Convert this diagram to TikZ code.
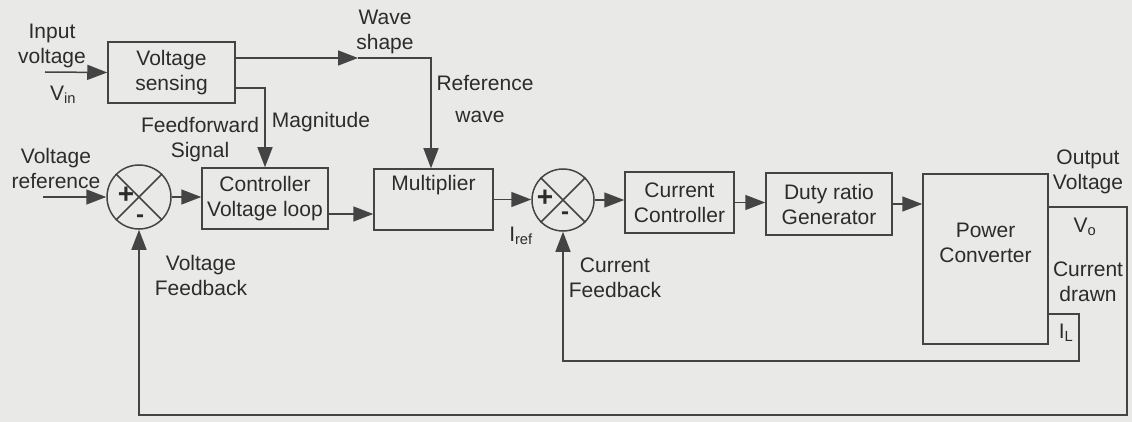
\documentclass[tikz,border=0pt]{standalone}
\usepackage{fontspec}
\setmainfont{Liberation Sans}
\usetikzlibrary{arrows.meta}
\definecolor{bg}{HTML}{E9E9E7}
\definecolor{ln}{HTML}{444444}
\definecolor{tx}{HTML}{2C2C2C}
\begin{document}
\begin{tikzpicture}[x=1pt,y=-1pt,
  font=\fontsize{21}{25}\selectfont,
  every node/.style={text=tx},
  blk/.style={draw=ln, line width=1.5pt, rectangle, inner sep=0pt, align=center},
  sumnode/.style={draw=ln, line width=1.5pt, circle, inner sep=0pt},
  lbl/.style={align=center, inner sep=0pt},
  conn/.style={draw=ln, line width=1.5pt},
  arr/.style={conn, -{Triangle[length=20pt,width=15pt]}}]
\fill[bg] (0,0) rectangle (1132,422);
\useasboundingbox (0,0) rectangle (1132,422);

% blocks
\node[blk, minimum width=127pt, minimum height=61pt] (vs) at (171.5,72.5) {Voltage\\sensing};
\node[blk, minimum width=126pt, minimum height=61pt] (ctrl) at (265,198.5) {Controller\\Voltage loop};
\node[blk, minimum width=119pt, minimum height=61pt] (mult) at (433.5,199.5) {Multiplier\\\strut};
\node[blk, minimum width=109pt, minimum height=61pt] (cc) at (679.5,202.5) {Current\\Controller};
\node[blk, minimum width=126pt, minimum height=62pt] (duty) at (829,204) {Duty ratio\\Generator};
\node[blk, minimum width=125pt, minimum height=170pt] (pc) at (985.5,259) {Power\\Converter\\[8pt]};

% summing junctions
\node[sumnode, minimum size=64pt] (s1) at (139,197) {};
\draw[conn] (s1.north west) -- (s1.south east) (s1.north east) -- (s1.south west);
\node[inner sep=0pt, font=\fontsize{28}{28}\selectfont\bfseries] (p1) at (126,195) {+};
\node[inner sep=0pt, font=\fontsize{24}{24}\selectfont\bfseries] (m1) at (140,219) {-};

\node[sumnode, minimum size=62pt] (s2) at (563,200) {};
\draw[conn] (s2.north west) -- (s2.south east) (s2.north east) -- (s2.south west);
\node[inner sep=0pt, font=\fontsize{28}{28}\selectfont\bfseries] (p2) at (545,198) {+};
\node[inner sep=0pt, font=\fontsize{24}{24}\selectfont\bfseries] (m2) at (565,216) {-};

% coordinates
\coordinate (vin) at (45,72);
\coordinate (vref) at (43,197);
\coordinate (wmid) at (358,58);
\coordinate (wt) at (431,58);
\coordinate (mg) at (265,88);
\coordinate (c1) at (328,214);
\coordinate (vo) at (1127,207);
\coordinate (vob) at (1127,415);
\coordinate (il) at (1079,314);
\coordinate (ilb) at (1079,361);

% connectors
\draw[arr] (vin) -- (vs.west);
\draw[arr] (vs.east |- wt) -- (wmid);
\draw[arr] (wmid) -- (wt) -- (wt |- mult.north);
\draw[arr] (vs.east |- mg) -- (mg) -- (ctrl.north);
\draw[arr] (vref) -- (s1.west);
\draw[arr] (s1.east) -- (s1.east -| ctrl.west);
\draw[arr] (c1) -- (c1 -| mult.west);
\draw[arr] (mult.east) -- (mult.east -| s2.west);
\draw[arr] (s2.east) -- (s2.east -| cc.west);
\draw[arr] (cc.east) -- (cc.east -| duty.west);
\draw[arr] (duty.east) -- (duty.east -| pc.west);
\draw[arr] (pc.east |- vo) -- (vo) -- (vob) -| (s1.south);
\draw[arr] (pc.east |- il) -- (il) -- (ilb) -| (s2.south);

% labels
\node[lbl] (tin) at (52,46) {Input\\voltage};
\node[lbl] (tvin) at (63,95) {V\textsubscript{in}};
\node[lbl] (twave) at (385,32) {Wave\\shape};
\node[lbl] (tref) at (485,83) {Reference};
\node[lbl] (twv) at (480,117) {wave};
\node[lbl] (tmag) at (321,122) {Magnitude};
\node[lbl] (tff) at (200,140) {Feedforward\\Signal};
\node[lbl] (tvr) at (56,168) {Voltage\\reference};
\node[lbl] (tvf) at (201,275) {Voltage\\Feedback};
\node[lbl] (tcf) at (615,278) {Current\\Feedback};
\node[lbl] (tiref) at (521,236) {I\textsubscript{ref}};
\node[lbl] (tov) at (1088,172) {Output\\Voltage};
\node[lbl] (tvo) at (1085,227) {V\textsubscript{o}};
\node[lbl] (tcd) at (1088,282) {Current\\drawn};
\node[lbl] (til) at (1066,333) {I\textsubscript{L}};
\end{tikzpicture}
\end{document}
